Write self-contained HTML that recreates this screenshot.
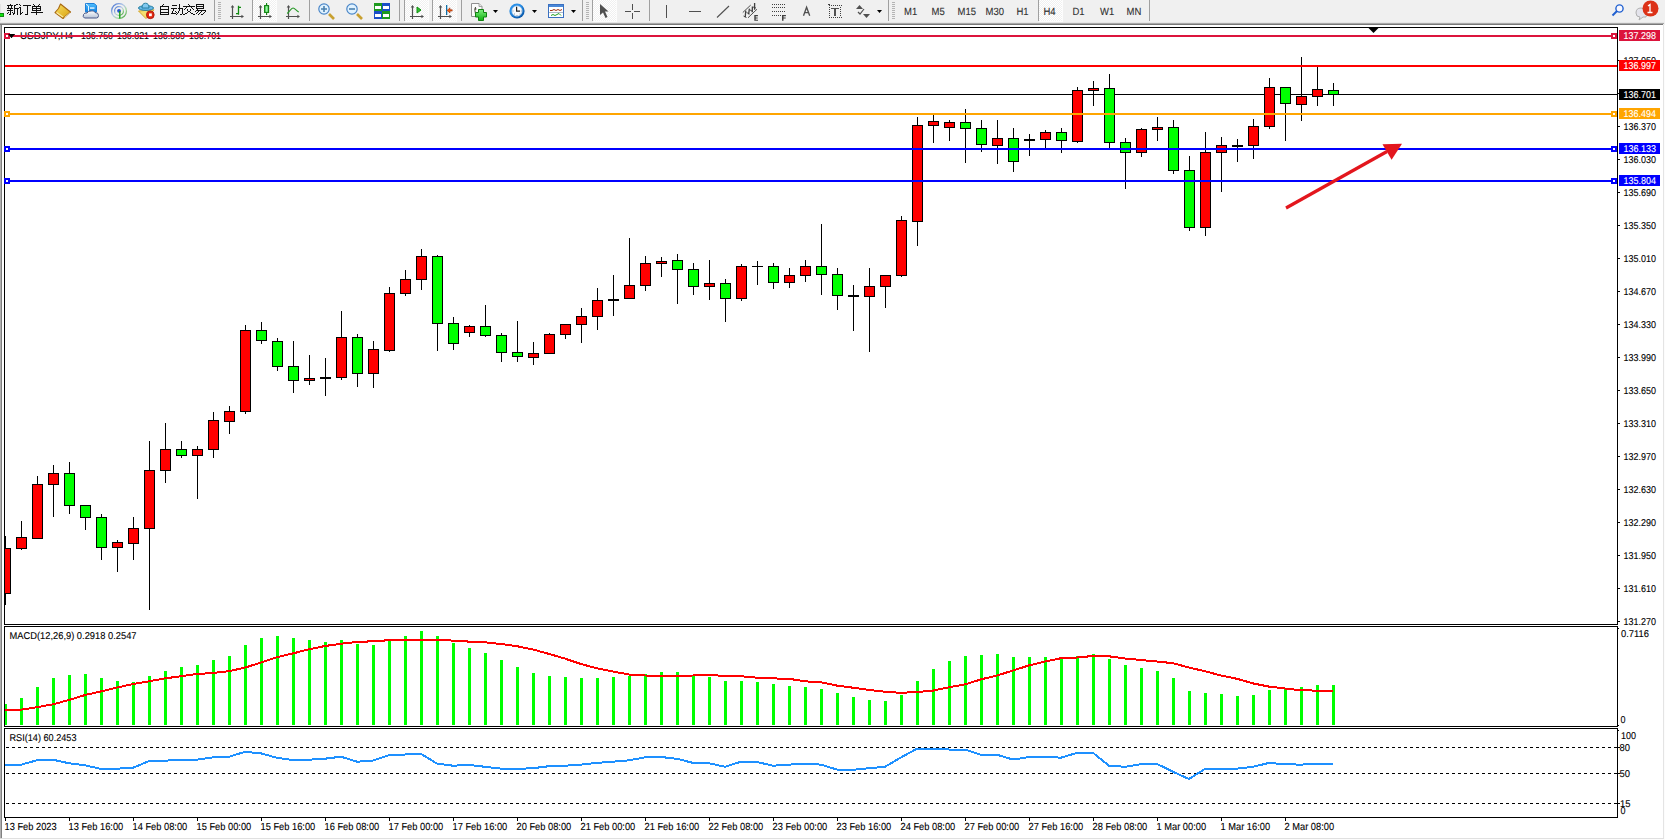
<!DOCTYPE html><html><head><meta charset="utf-8"><title>USDJPY H4</title><style>html,body{margin:0;padding:0;background:#f0f0f0;}body{width:1665px;height:840px;overflow:hidden;position:relative;}svg text{font-family:"Liberation Sans",sans-serif;text-rendering:geometricPrecision;}</style></head><body><svg width="1665" height="840" viewBox="0 0 1665 840" style="position:absolute;left:0;top:0" font-family='"Liberation Sans", sans-serif'>
<rect x="0" y="0" width="1665" height="840" fill="#f0f0f0"/>
<g shape-rendering="crispEdges">
<rect x="0" y="4" width="1" height="17" fill="#e2e2e2"/>
<rect x="0" y="13" width="4" height="4" fill="#108a10"/>
<rect x="0" y="14" width="3" height="2" fill="#10e010"/>
</g>
<path d="M10 4h1v1h-1zM16 4h2v1h-2zM7 5h6v1h-6zM14 5h2v1h-2zM8 6h1v1h-1zM11 6h1v1h-1zM14 6h1v1h-1zM8 7h1v1h-1zM11 7h1v1h-1zM14 7h1v1h-1zM7 8h6v1h-6zM14 8h5v1h-5zM10 9h1v1h-1zM14 9h1v1h-1zM17 9h1v1h-1zM7 10h6v1h-6zM14 10h1v1h-1zM17 10h1v1h-1zM10 11h1v1h-1zM14 11h1v1h-1zM17 11h1v1h-1zM8 12h1v1h-1zM10 12h1v1h-1zM12 12h1v1h-1zM14 12h1v1h-1zM17 12h1v1h-1zM7 13h1v1h-1zM10 13h1v1h-1zM13 13h2v1h-2zM17 13h1v1h-1zM9 14h2v1h-2zM13 14h1v1h-1zM17 14h1v1h-1zM19 4h1v1h-1zM20 5h1v1h-1zM23 5h8v1h-8zM27 6h1v1h-1zM19 7h2v1h-2zM27 7h1v1h-1zM20 8h1v1h-1zM27 8h1v1h-1zM20 9h1v1h-1zM27 9h1v1h-1zM20 10h1v1h-1zM27 10h1v1h-1zM20 11h1v1h-1zM27 11h1v1h-1zM20 12h1v1h-1zM22 12h1v1h-1zM27 12h1v1h-1zM20 13h2v1h-2zM27 13h1v1h-1zM20 14h1v1h-1zM25 14h3v1h-3zM33 4h1v1h-1zM39 4h1v1h-1zM34 5h1v1h-1zM38 5h1v1h-1zM32 6h9v1h-9zM32 7h1v1h-1zM36 7h1v1h-1zM40 7h1v1h-1zM32 8h9v1h-9zM32 9h1v1h-1zM36 9h1v1h-1zM40 9h1v1h-1zM32 10h9v1h-9zM36 11h1v1h-1zM31 12h12v1h-12zM36 13h1v1h-1zM36 14h1v1h-1z" fill="#111"/>
<path d="M163 4h1v1h-1zM162 5h1v1h-1zM160 6h9v1h-9zM160 7h1v1h-1zM168 7h1v1h-1zM160 8h1v1h-1zM168 8h1v1h-1zM160 9h9v1h-9zM160 10h1v1h-1zM168 10h1v1h-1zM160 11h1v1h-1zM168 11h1v1h-1zM160 12h9v1h-9zM160 13h1v1h-1zM168 13h1v1h-1zM160 14h9v1h-9z" fill="#111"/>
<path d="M179 4h1v1h-1zM172 5h5v1h-5zM179 5h1v1h-1zM179 6h1v1h-1zM179 7h1v1h-1zM171 8h6v1h-6zM178 8h5v1h-5zM173 9h1v1h-1zM179 9h1v1h-1zM182 9h1v1h-1zM173 10h1v1h-1zM179 10h1v1h-1zM182 10h1v1h-1zM172 11h1v1h-1zM175 11h1v1h-1zM178 11h1v1h-1zM182 11h1v1h-1zM172 12h1v1h-1zM176 12h1v1h-1zM178 12h1v1h-1zM182 12h1v1h-1zM171 13h5v1h-5zM177 13h1v1h-1zM182 13h1v1h-1zM176 14h1v1h-1zM180 14h2v1h-2z" fill="#111"/>
<path d="M188 4h1v1h-1zM189 5h1v1h-1zM183 6h12v1h-12zM186 7h1v1h-1zM191 7h1v1h-1zM185 8h1v1h-1zM192 8h1v1h-1zM184 9h1v1h-1zM187 9h1v1h-1zM190 9h1v1h-1zM193 9h1v1h-1zM187 10h1v1h-1zM190 10h1v1h-1zM188 11h2v1h-2zM187 12h1v1h-1zM190 12h1v1h-1zM185 13h2v1h-2zM191 13h2v1h-2zM183 14h2v1h-2zM193 14h2v1h-2z" fill="#111"/>
<path d="M196 4h8v1h-8zM196 5h1v1h-1zM203 5h1v1h-1zM196 6h8v1h-8zM196 7h1v1h-1zM203 7h1v1h-1zM196 8h8v1h-8zM197 9h1v1h-1zM196 10h10v1h-10zM195 11h1v1h-1zM198 11h1v1h-1zM201 11h1v1h-1zM205 11h1v1h-1zM197 12h1v1h-1zM200 12h1v1h-1zM204 12h1v1h-1zM196 13h1v1h-1zM199 13h1v1h-1zM203 13h1v1h-1zM198 14h1v1h-1zM201 14h2v1h-2z" fill="#111"/>
<defs><linearGradient id="gb" x1="0" y1="0" x2="1" y2="1"><stop offset="0" stop-color="#f8e060"/><stop offset="1" stop-color="#d8a010"/></linearGradient><linearGradient id="cl" x1="0" y1="0" x2="0" y2="1"><stop offset="0" stop-color="#ffffff"/><stop offset="1" stop-color="#b8c4d8"/></linearGradient><linearGradient id="bx" x1="0" y1="0" x2="0" y2="1"><stop offset="0" stop-color="#50c0ff"/><stop offset="1" stop-color="#1080e0"/></linearGradient><pattern id="chk" width="2" height="2" patternUnits="userSpaceOnUse"><rect width="2" height="2" fill="#f0f0f0"/><rect width="1" height="1" fill="#fff"/><rect x="1" y="1" width="1" height="1" fill="#fff"/></pattern></defs>
<path d="M60.5 4 L70.5 12 L63 18.5 L55 12.5 L58.5 8.5 Z" fill="url(#gb)" stroke="#a86810" stroke-width="1.1" stroke-linejoin="round"/>
<path d="M56.5 12.5 L63 17" stroke="#f8e8a0" stroke-width="1.3" fill="none"/>
<path d="M64.5 17.5 L70 12.8" stroke="#e8dcb0" stroke-width="1" fill="none"/>
<path d="M85.5 3.5 H94 L96.5 5.5 V12 H85.5 Z" fill="url(#bx)" stroke="#2080d8" stroke-width="1"/>
<path d="M86 4 L88.5 6 V12" stroke="#e8f6ff" stroke-width="1" fill="none"/>
<rect x="90" y="7.3" width="4.5" height="1.5" fill="#e0f4ff"/>
<path d="M84.5 18 Q82.5 17 83.5 14.5 Q84.5 12.5 87 13 Q88 10.5 91.5 11 Q93.5 10 95 12.5 Q98.5 12.5 98.5 15.5 Q98.5 18 96.5 18 Z" fill="url(#cl)" stroke="#4a5a88" stroke-width="1"/>
<defs><linearGradient id="sg" x1="0" y1="0" x2="1" y2="1"><stop offset="0" stop-color="#3a6ad0"/><stop offset="0.45" stop-color="#b8cce8"/><stop offset="0.7" stop-color="#a8d8a0"/><stop offset="1" stop-color="#209020"/></linearGradient></defs>
<g fill="none">
<circle cx="119" cy="11" r="7.4" stroke="url(#sg)" stroke-width="1.3"/>
<circle cx="119" cy="11" r="4.4" stroke="url(#sg)" stroke-width="1.3"/>
<circle cx="119" cy="10.8" r="1.9" fill="#2a5ad0"/>
<path d="M119.8 11 V18.6" stroke="#18a018" stroke-width="1.4"/>
</g>
<path d="M138.5 11 L154 9.8 L146 18.6 Z" fill="#f4e070" stroke="#d0a020" stroke-width="0.9" stroke-linejoin="round"/>
<ellipse cx="146" cy="8" rx="7.6" ry="2.4" fill="#68b8e8" stroke="#1e7898" stroke-width="0.9"/>
<path d="M142 8 Q142 3.2 145.5 3.2 Q149 3.2 149 8 Z" fill="#80c8f0" stroke="#1e7898" stroke-width="0.9"/>
<circle cx="150.3" cy="14.8" r="3.9" fill="#e02810" stroke="#a81008" stroke-width="0.8"/>
<rect x="149" y="13.4" width="2.8" height="2.8" fill="#fff"/>
<g shape-rendering="crispEdges">
<rect x="214" y="0" width="1" height="21" fill="#a0a0a0"/>
<path d="M218 2h3v1h-3zM218 4h3v1h-3zM218 6h3v1h-3zM218 8h3v1h-3zM218 10h3v1h-3zM218 12h3v1h-3zM218 14h3v1h-3zM218 16h3v1h-3zM218 18h3v1h-3z" fill="#b4b4b4"/>
<path d="M232 6v13M229 18h15M244 16v5" stroke="none"/>
</g>
<g fill="none" stroke="#505050" stroke-width="1.2"><path d="M232.5 6 V19 M230 16.5 H243"/></g><path d="M232.5 5 l-1.8 2.6h3.6z M244 16.5 l-2.6 -1.8v3.6z" fill="#505050"/>
<path d="M236 13.6 H238.6 M238.5 5.8 V14.8 M238.6 7.4 H241" fill="none" stroke="#108a10" stroke-width="1.3"/>
<rect x="252" y="0" width="1" height="21" fill="#a0a0a0"/>
<rect x="253" y="0" width="24" height="22" fill="#fcfcfc"/>
<rect x="253" y="0" width="23" height="21" fill="url(#chk)"/>
<g fill="none" stroke="#505050" stroke-width="1.2"><path d="M260.5 6 V19 M258 16.5 H271"/></g><path d="M260.5 5 l-1.8 2.6h3.6z M272 16.5 l-2.6 -1.8v3.6z" fill="#505050"/>
<defs><linearGradient id="cg" x1="0" y1="0" x2="1" y2="0"><stop offset="0" stop-color="#30d040"/><stop offset="0.5" stop-color="#a0f8a8"/><stop offset="1" stop-color="#30c040"/></linearGradient></defs>
<rect x="264.6" y="5.6" width="4" height="6.8" fill="url(#cg)" stroke="#108010" stroke-width="1.1"/>
<path d="M266.6 3v2.6M266.6 12.4v2.5" stroke="#108010" stroke-width="1.1"/>
<g fill="none" stroke="#505050" stroke-width="1.2"><path d="M288.5 6 V19 M286 16.5 H299"/></g><path d="M288.5 5 l-1.8 2.6h3.6z M300 16.5 l-2.6 -1.8v3.6z" fill="#505050"/>
<path d="M287.2 13.5 C289.5 11.5 291.2 8 293 8 C295 8 296.5 11.2 298.8 12" fill="none" stroke="#2a9a2a" stroke-width="1.1"/>
<rect x="309" y="0" width="1" height="21" fill="#a0a0a0"/>
<path d="M329 14 l5 5" stroke="#c8a030" stroke-width="2.6" fill="none"/>
<circle cx="324" cy="9" r="5.2" fill="#e0f2ff" stroke="#4a86c8" stroke-width="1.2"/>
<path d="M321 9h6M324 6v6" stroke="#4a80b0" stroke-width="1.6"/>
<path d="M357 14 l5 5" stroke="#c8a030" stroke-width="2.6" fill="none"/>
<circle cx="352" cy="9" r="5.2" fill="#e0f2ff" stroke="#4a86c8" stroke-width="1.2"/>
<path d="M349 9h6" stroke="#4a80b0" stroke-width="1.6"/>
<g shape-rendering="crispEdges">
<rect x="374" y="3" width="8" height="8" fill="#1e9a1e"/>
<rect x="375" y="6" width="6" height="3" fill="#ffffff"/>
<rect x="382" y="3" width="8" height="8" fill="#1a4ec8"/>
<rect x="383" y="6" width="6" height="3" fill="#ffffff"/>
<rect x="374" y="11" width="8" height="8" fill="#1a4ec8"/>
<rect x="375" y="14" width="6" height="3" fill="#ffffff"/>
<rect x="382" y="11" width="8" height="8" fill="#1e9a1e"/>
<rect x="383" y="14" width="6" height="3" fill="#ffffff"/>
</g>
<g shape-rendering="crispEdges">
<rect x="399" y="0" width="1" height="21" fill="#a0a0a0"/>
<rect x="404" y="0" width="1" height="21" fill="#a0a0a0"/>
<rect x="405" y="0" width="24" height="22" fill="#fcfcfc"/>
<rect x="405" y="0" width="23" height="21" fill="url(#chk)"/>
</g>
<g fill="none" stroke="#505050" stroke-width="1.2"><path d="M412.5 6 V19 M410 16.5 H423"/></g><path d="M412.5 5 l-1.8 2.6h3.6z M424 16.5 l-2.6 -1.8v3.6z" fill="#505050"/>
<path d="M417 7 L421 10 L417 13 Z" fill="#30c030" stroke="#109010" stroke-width="1"/>
<g shape-rendering="crispEdges">
<rect x="432" y="0" width="1" height="21" fill="#a0a0a0"/>
<rect x="433" y="0" width="24" height="22" fill="#fcfcfc"/>
<rect x="433" y="0" width="23" height="21" fill="url(#chk)"/>
</g>
<g fill="none" stroke="#505050" stroke-width="1.2"><path d="M440.5 6 V19 M438 16.5 H451"/></g><path d="M440.5 5 l-1.8 2.6h3.6z M452 16.5 l-2.6 -1.8v3.6z" fill="#505050"/>
<rect x="446" y="5" width="1.3" height="10" fill="#1070a8"/>
<path d="M447 10.4 l3 -2.6v1.9h2.2v1.4h-2.2v1.9z" fill="#f06010" stroke="#902000" stroke-width="0.5"/>
<g shape-rendering="crispEdges">
<rect x="461" y="0" width="1" height="21" fill="#a0a0a0"/>
</g>
<defs><linearGradient id="gp" x1="0" y1="0" x2="0" y2="1"><stop offset="0" stop-color="#80f080"/><stop offset="1" stop-color="#10b010"/></linearGradient><radialGradient id="ck" cx="0.4" cy="0.35" r="0.7"><stop offset="0.55" stop-color="#2a90e8"/><stop offset="1" stop-color="#004898"/></radialGradient></defs>
<path d="M471.5 3.5h7.5l3 3v10h-10.5z" fill="#fbfbfb" stroke="#909090" stroke-width="1"/>
<path d="M479 3.5v3h3" fill="#e8e8e8" stroke="#909090" stroke-width="0.8"/>
<path d="M475.5 7 q-1.2 3 0 7 M474.5 9h2" stroke="#303020" fill="none" stroke-width="0.9"/>
<path d="M478.5 9.5h5v3h3v4.5h-3v3.5h-5v-3.5h-3v-4.5h3z" fill="url(#gp)" stroke="#108010" stroke-width="1"/>
<path d="M493 10h5l-2.5 3z" fill="#000"/>
<circle cx="517" cy="11" r="7.6" fill="url(#ck)"/>
<circle cx="517" cy="11" r="5.2" fill="#f8fafc" stroke="#a0c0e0" stroke-width="0.6"/>
<path d="M516.6 6.8v4.4h3.4" stroke="#202020" stroke-width="1.2" fill="none"/>
<g fill="#90a0b0"><rect x="516.5" y="15" width="1" height="1"/><rect x="512.5" y="10.5" width="1" height="1"/><rect x="520.8" y="10.5" width="1" height="1"/><rect x="514" y="13.5" width="1" height="1"/><rect x="519.5" y="13.5" width="1" height="1"/></g>
<path d="M532 10h5l-2.5 3z" fill="#000"/>
<rect x="548.5" y="4.5" width="15" height="13" fill="#fff" stroke="#3a70c0" stroke-width="1"/>
<rect x="549" y="5" width="14" height="2" fill="#4a88d8"/>
<path d="M550 10.5 l2 0 l2 -1 l2 1 l2 -1 l2 1 l2 -1" stroke="#a03010" stroke-width="1" fill="none"/>
<path d="M549 12.5h14" stroke="#9ab" stroke-width="0.8"/>
<path d="M551 15.5 l2 -1 l2 1 l2 -1 l2 -1 l2 2" stroke="#20a020" stroke-width="1" fill="none"/>
<path d="M571 10h5l-2.5 3z" fill="#000"/>
<g shape-rendering="crispEdges">
<rect x="582" y="0" width="1" height="21" fill="#a0a0a0"/>
<path d="M586 2h3v1h-3zM586 4h3v1h-3zM586 6h3v1h-3zM586 8h3v1h-3zM586 10h3v1h-3zM586 12h3v1h-3zM586 14h3v1h-3zM586 16h3v1h-3zM586 18h3v1h-3z" fill="#b4b4b4"/>
<rect x="592" y="0" width="1" height="21" fill="#a0a0a0"/>
<rect x="593" y="0" width="24" height="22" fill="#fcfcfc"/>
<rect x="593" y="0" width="23" height="21" fill="url(#chk)"/>
</g>
<path d="M600 4 L600 15 L603 12.5 L605.5 18 L607.5 17 L605 11.5 L608.5 11.5 Z" fill="#505050"/>
<g shape-rendering="crispEdges">
<rect x="632" y="4" width="1" height="6" fill="#505050"/>
<rect x="632" y="13" width="1" height="6" fill="#505050"/>
<rect x="625" y="11" width="6" height="1" fill="#505050"/>
<rect x="634" y="11" width="6" height="1" fill="#505050"/>
<rect x="649" y="0" width="1" height="21" fill="#a0a0a0"/>
<rect x="666" y="5" width="1" height="13" fill="#505050"/>
<rect x="689" y="11" width="12" height="1" fill="#505050"/>
</g>
<path d="M717 17.5 L729 6" stroke="#505050" stroke-width="1.1"/>
<path d="M742.8 12.5 L750.7 5.1 M748 17.8 L757 9.2" stroke="#505050" stroke-width="1" fill="none"/>
<path d="M745.2 17.2 L745.8 10.6 M748.6 14.4 L749.4 8.6 M752.2 12.2 L752.4 6.6 M754.6 9.8 L754.6 3" stroke="#404040" stroke-width="1.3" fill="none"/>
<path d="M743.5 16 l3 1.5 M746.5 12.5 l3 1.5 M750 10 l3 1.5 M753 7 l3 1" stroke="#404040" stroke-width="0.9" fill="none"/>
<path d="M754.3 15 h3.6 v1.2 h-2.2 v1.2 h2 v1.1 h-2 v1.2 h2.3 v1.1 h-3.7 z" fill="#404040"/>
<g shape-rendering="crispEdges">
<rect x="772" y="4" width="1" height="1" fill="#404040"/>
<rect x="774" y="4" width="1" height="1" fill="#404040"/>
<rect x="776" y="4" width="1" height="1" fill="#404040"/>
<rect x="778" y="4" width="1" height="1" fill="#404040"/>
<rect x="780" y="4" width="1" height="1" fill="#404040"/>
<rect x="782" y="4" width="1" height="1" fill="#404040"/>
<rect x="784" y="4" width="1" height="1" fill="#404040"/>
<rect x="772" y="7" width="1" height="1" fill="#404040"/>
<rect x="774" y="7" width="1" height="1" fill="#404040"/>
<rect x="776" y="7" width="1" height="1" fill="#404040"/>
<rect x="778" y="7" width="1" height="1" fill="#404040"/>
<rect x="780" y="7" width="1" height="1" fill="#404040"/>
<rect x="782" y="7" width="1" height="1" fill="#404040"/>
<rect x="784" y="7" width="1" height="1" fill="#404040"/>
<rect x="772" y="11" width="1" height="1" fill="#404040"/>
<rect x="774" y="11" width="1" height="1" fill="#404040"/>
<rect x="776" y="11" width="1" height="1" fill="#404040"/>
<rect x="778" y="11" width="1" height="1" fill="#404040"/>
<rect x="780" y="11" width="1" height="1" fill="#404040"/>
<rect x="782" y="11" width="1" height="1" fill="#404040"/>
<rect x="784" y="11" width="1" height="1" fill="#404040"/>
<rect x="772" y="15" width="1" height="1" fill="#404040"/>
<rect x="774" y="15" width="1" height="1" fill="#404040"/>
<rect x="776" y="15" width="1" height="1" fill="#404040"/>
<rect x="778" y="15" width="1" height="1" fill="#404040"/>
<rect x="780" y="15" width="1" height="1" fill="#404040"/>
</g>
<path d="M782 15 h3.9 v1.2 h-2.4 v1.2 h2.2 v1.1 h-2.2 v2.2 h-1.5 z" fill="#404040"/>
<path d="M803.5 15.8 L806.6 7.2 L809.7 15.8 M804.6 12.6 H808.6" stroke="#505050" stroke-width="1.35" fill="none"/>
<g shape-rendering="crispEdges">
<rect x="829" y="5" width="1" height="1" fill="#404040"/>
<rect x="829" y="17" width="1" height="1" fill="#404040"/>
<rect x="831" y="5" width="1" height="1" fill="#404040"/>
<rect x="831" y="17" width="1" height="1" fill="#404040"/>
<rect x="833" y="5" width="1" height="1" fill="#404040"/>
<rect x="833" y="17" width="1" height="1" fill="#404040"/>
<rect x="835" y="5" width="1" height="1" fill="#404040"/>
<rect x="835" y="17" width="1" height="1" fill="#404040"/>
<rect x="837" y="5" width="1" height="1" fill="#404040"/>
<rect x="837" y="17" width="1" height="1" fill="#404040"/>
<rect x="839" y="5" width="1" height="1" fill="#404040"/>
<rect x="839" y="17" width="1" height="1" fill="#404040"/>
<rect x="841" y="5" width="1" height="1" fill="#404040"/>
<rect x="841" y="17" width="1" height="1" fill="#404040"/>
<rect x="829" y="7" width="1" height="1" fill="#404040"/>
<rect x="840" y="7" width="1" height="1" fill="#404040"/>
<rect x="829" y="9" width="1" height="1" fill="#404040"/>
<rect x="840" y="9" width="1" height="1" fill="#404040"/>
<rect x="829" y="11" width="1" height="1" fill="#404040"/>
<rect x="840" y="11" width="1" height="1" fill="#404040"/>
<rect x="829" y="13" width="1" height="1" fill="#404040"/>
<rect x="840" y="13" width="1" height="1" fill="#404040"/>
<rect x="829" y="15" width="1" height="1" fill="#404040"/>
<rect x="840" y="15" width="1" height="1" fill="#404040"/>
<rect x="828" y="4" width="2" height="1" fill="#404040"/>
<rect x="831" y="8" width="8" height="1" fill="#505050"/>
<rect x="834" y="9" width="2" height="7" fill="#505050"/>
</g>
<path d="M856 9 l3.5 -4 l3.5 4z M863 14 l3.5 4 l3.5 -4z" fill="#505050"/>
<path d="M858 12 l2 2 l4 -5" stroke="#505050" stroke-width="1.2" fill="none"/>
<path d="M877 10h5l-2.5 3z" fill="#000"/>
<g shape-rendering="crispEdges">
<rect x="888" y="0" width="1" height="21" fill="#a0a0a0"/>
<path d="M892 2h3v1h-3zM892 4h3v1h-3zM892 6h3v1h-3zM892 8h3v1h-3zM892 10h3v1h-3zM892 12h3v1h-3zM892 14h3v1h-3zM892 16h3v1h-3zM892 18h3v1h-3z" fill="#b4b4b4"/>
</g>
<g shape-rendering="crispEdges">
<rect x="1038" y="0" width="1" height="21" fill="#a0a0a0"/>
<rect x="1039" y="0" width="24" height="22" fill="#fcfcfc"/>
<rect x="1039" y="0" width="23" height="21" fill="url(#chk)"/>
<rect x="1149" y="0" width="1" height="21" fill="#a0a0a0"/>
</g>
<text transform="translate(904 15) scale(1 1.1)" font-size="9.5" fill="#303030" stroke="#303030" stroke-width="0.1">M1</text>
<text transform="translate(931.5 15) scale(1 1.1)" font-size="9.5" fill="#303030" stroke="#303030" stroke-width="0.1">M5</text>
<text transform="translate(957.5 15) scale(1 1.1)" font-size="9.5" fill="#303030" stroke="#303030" stroke-width="0.1">M15</text>
<text transform="translate(985.5 15) scale(1 1.1)" font-size="9.5" fill="#303030" stroke="#303030" stroke-width="0.1">M30</text>
<text transform="translate(1016.5 15) scale(1 1.1)" font-size="9.5" fill="#303030" stroke="#303030" stroke-width="0.1">H1</text>
<text transform="translate(1043.5 15) scale(1 1.1)" font-size="9.5" fill="#303030" stroke="#303030" stroke-width="0.1">H4</text>
<text transform="translate(1072.5 15) scale(1 1.1)" font-size="9.5" fill="#303030" stroke="#303030" stroke-width="0.1">D1</text>
<text transform="translate(1100 15) scale(1 1.1)" font-size="9.5" fill="#303030" stroke="#303030" stroke-width="0.1">W1</text>
<text transform="translate(1126.5 15) scale(1 1.1)" font-size="9.5" fill="#303030" stroke="#303030" stroke-width="0.1">MN</text>
<circle cx="1619.5" cy="8.5" r="3.6" fill="#f8f8ff" stroke="#2060d0" stroke-width="1.4"/>
<path d="M1617 11 L1612.5 15.5" stroke="#2060d0" stroke-width="2"/>
<path d="M1641 8 Q1636 8 1636 13 Q1636 17 1640 17 L1639 20 L1643 17 L1646 17 Q1648 13 1646 9 Z" fill="#e4e4ec" stroke="#b0b0b0" stroke-width="1"/>
<circle cx="1650.5" cy="8.5" r="8" fill="#dc3218"/>
<path d="M1647.5 12.5h5M1650 12.5v-8l-2 1.5" stroke="#fff" stroke-width="1.3" fill="none"/>
<g shape-rendering="crispEdges">
<rect x="0" y="22" width="1664" height="1" fill="#e6e6e6"/>
<rect x="0" y="23" width="1664" height="1" fill="#a8a8a8"/>
<rect x="0" y="24" width="1663" height="1" fill="#787878"/>
<rect x="2" y="25" width="1661" height="813" fill="#ffffff"/>
<rect x="0" y="25" width="1" height="813" fill="#b0b0b0"/>
<rect x="1" y="25" width="1" height="813" fill="#808080"/>
<rect x="1663" y="25" width="1" height="814" fill="#e4e4e4"/>
<rect x="2" y="838" width="1662" height="1" fill="#e0e0e0"/>
<rect x="0" y="839" width="1665" height="1" fill="#fcfcfc"/>
<rect x="1664" y="25" width="1" height="815" fill="#fcfcfc"/>
<rect x="0" y="838" width="2" height="1" fill="#d8d8d8"/>
<rect x="4" y="27" width="1614" height="1" fill="#000"/>
<rect x="4" y="624" width="1614" height="1" fill="#000"/>
<rect x="4" y="27" width="1" height="598" fill="#000"/>
<rect x="1617" y="27" width="1" height="598" fill="#000"/>
<rect x="4" y="626" width="1614" height="1" fill="#000"/>
<rect x="4" y="726" width="1614" height="1" fill="#000"/>
<rect x="4" y="626" width="1" height="101" fill="#000"/>
<rect x="1617" y="626" width="1" height="101" fill="#000"/>
<rect x="4" y="728" width="1614" height="1" fill="#000"/>
<rect x="4" y="817" width="1614" height="1" fill="#000"/>
<rect x="4" y="728" width="1" height="90" fill="#000"/>
<rect x="1617" y="728" width="1" height="90" fill="#000"/>
</g>
<defs><clipPath id="cm"><rect x="5" y="28" width="1612" height="596"/></clipPath><clipPath id="cmacd"><rect x="5" y="627" width="1612" height="99"/></clipPath><clipPath id="crsi"><rect x="5" y="729" width="1612" height="88"/></clipPath></defs>
<g clip-path="url(#cm)" shape-rendering="crispEdges">
<rect x="5" y="94" width="1612" height="1" fill="#000000"/>
<rect x="5" y="536" width="1" height="69" fill="#000"/>
<rect x="0" y="548" width="11" height="46" fill="#000"/>
<rect x="1" y="549" width="9" height="44" fill="#ff0000"/>
<rect x="21" y="521" width="1" height="29" fill="#000"/>
<rect x="16" y="537" width="11" height="12" fill="#000"/>
<rect x="17" y="538" width="9" height="10" fill="#ff0000"/>
<rect x="37" y="476" width="1" height="63" fill="#000"/>
<rect x="32" y="484" width="11" height="55" fill="#000"/>
<rect x="33" y="485" width="9" height="53" fill="#ff0000"/>
<rect x="53" y="465" width="1" height="52" fill="#000"/>
<rect x="48" y="473" width="11" height="12" fill="#000"/>
<rect x="49" y="474" width="9" height="10" fill="#ff0000"/>
<rect x="69" y="462" width="1" height="52" fill="#000"/>
<rect x="64" y="473" width="11" height="33" fill="#000"/>
<rect x="65" y="474" width="9" height="31" fill="#00ff00"/>
<rect x="85" y="505" width="1" height="25" fill="#000"/>
<rect x="80" y="505" width="11" height="13" fill="#000"/>
<rect x="81" y="506" width="9" height="11" fill="#00ff00"/>
<rect x="101" y="514" width="1" height="46" fill="#000"/>
<rect x="96" y="517" width="11" height="31" fill="#000"/>
<rect x="97" y="518" width="9" height="29" fill="#00ff00"/>
<rect x="117" y="540" width="1" height="32" fill="#000"/>
<rect x="112" y="542" width="11" height="6" fill="#000"/>
<rect x="113" y="543" width="9" height="4" fill="#ff0000"/>
<rect x="133" y="517" width="1" height="43" fill="#000"/>
<rect x="128" y="528" width="11" height="16" fill="#000"/>
<rect x="129" y="529" width="9" height="14" fill="#ff0000"/>
<rect x="149" y="441" width="1" height="169" fill="#000"/>
<rect x="144" y="470" width="11" height="59" fill="#000"/>
<rect x="145" y="471" width="9" height="57" fill="#ff0000"/>
<rect x="165" y="423" width="1" height="60" fill="#000"/>
<rect x="160" y="449" width="11" height="22" fill="#000"/>
<rect x="161" y="450" width="9" height="20" fill="#ff0000"/>
<rect x="181" y="441" width="1" height="17" fill="#000"/>
<rect x="176" y="449" width="11" height="7" fill="#000"/>
<rect x="177" y="450" width="9" height="5" fill="#00ff00"/>
<rect x="197" y="446" width="1" height="53" fill="#000"/>
<rect x="192" y="449" width="11" height="7" fill="#000"/>
<rect x="193" y="450" width="9" height="5" fill="#ff0000"/>
<rect x="213" y="412" width="1" height="46" fill="#000"/>
<rect x="208" y="420" width="11" height="30" fill="#000"/>
<rect x="209" y="421" width="9" height="28" fill="#ff0000"/>
<rect x="229" y="406" width="1" height="28" fill="#000"/>
<rect x="224" y="411" width="11" height="11" fill="#000"/>
<rect x="225" y="412" width="9" height="9" fill="#ff0000"/>
<rect x="245" y="325" width="1" height="89" fill="#000"/>
<rect x="240" y="330" width="11" height="82" fill="#000"/>
<rect x="241" y="331" width="9" height="80" fill="#ff0000"/>
<rect x="261" y="322" width="1" height="22" fill="#000"/>
<rect x="256" y="330" width="11" height="11" fill="#000"/>
<rect x="257" y="331" width="9" height="9" fill="#00ff00"/>
<rect x="277" y="338" width="1" height="33" fill="#000"/>
<rect x="272" y="341" width="11" height="26" fill="#000"/>
<rect x="273" y="342" width="9" height="24" fill="#00ff00"/>
<rect x="293" y="341" width="1" height="52" fill="#000"/>
<rect x="288" y="366" width="11" height="15" fill="#000"/>
<rect x="289" y="367" width="9" height="13" fill="#00ff00"/>
<rect x="309" y="355" width="1" height="30" fill="#000"/>
<rect x="304" y="378" width="11" height="3" fill="#000"/>
<rect x="305" y="379" width="9" height="1" fill="#ff0000"/>
<rect x="325" y="358" width="1" height="38" fill="#000"/>
<rect x="320" y="377" width="11" height="2" fill="#000"/>
<rect x="341" y="311" width="1" height="69" fill="#000"/>
<rect x="336" y="337" width="11" height="41" fill="#000"/>
<rect x="337" y="338" width="9" height="39" fill="#ff0000"/>
<rect x="357" y="334" width="1" height="53" fill="#000"/>
<rect x="352" y="337" width="11" height="37" fill="#000"/>
<rect x="353" y="338" width="9" height="35" fill="#00ff00"/>
<rect x="373" y="341" width="1" height="47" fill="#000"/>
<rect x="368" y="349" width="11" height="25" fill="#000"/>
<rect x="369" y="350" width="9" height="23" fill="#ff0000"/>
<rect x="389" y="287" width="1" height="65" fill="#000"/>
<rect x="384" y="293" width="11" height="58" fill="#000"/>
<rect x="385" y="294" width="9" height="56" fill="#ff0000"/>
<rect x="405" y="270" width="1" height="26" fill="#000"/>
<rect x="400" y="279" width="11" height="15" fill="#000"/>
<rect x="401" y="280" width="9" height="13" fill="#ff0000"/>
<rect x="421" y="249" width="1" height="41" fill="#000"/>
<rect x="416" y="256" width="11" height="24" fill="#000"/>
<rect x="417" y="257" width="9" height="22" fill="#ff0000"/>
<rect x="437" y="255" width="1" height="96" fill="#000"/>
<rect x="432" y="256" width="11" height="68" fill="#000"/>
<rect x="433" y="257" width="9" height="66" fill="#00ff00"/>
<rect x="453" y="317" width="1" height="33" fill="#000"/>
<rect x="448" y="323" width="11" height="21" fill="#000"/>
<rect x="449" y="324" width="9" height="19" fill="#00ff00"/>
<rect x="469" y="325" width="1" height="12" fill="#000"/>
<rect x="464" y="326" width="11" height="7" fill="#000"/>
<rect x="465" y="327" width="9" height="5" fill="#ff0000"/>
<rect x="485" y="305" width="1" height="32" fill="#000"/>
<rect x="480" y="326" width="11" height="10" fill="#000"/>
<rect x="481" y="327" width="9" height="8" fill="#00ff00"/>
<rect x="501" y="333" width="1" height="29" fill="#000"/>
<rect x="496" y="335" width="11" height="18" fill="#000"/>
<rect x="497" y="336" width="9" height="16" fill="#00ff00"/>
<rect x="517" y="321" width="1" height="41" fill="#000"/>
<rect x="512" y="352" width="11" height="5" fill="#000"/>
<rect x="513" y="353" width="9" height="3" fill="#00ff00"/>
<rect x="533" y="342" width="1" height="23" fill="#000"/>
<rect x="528" y="353" width="11" height="5" fill="#000"/>
<rect x="529" y="354" width="9" height="3" fill="#ff0000"/>
<rect x="549" y="333" width="1" height="21" fill="#000"/>
<rect x="544" y="334" width="11" height="20" fill="#000"/>
<rect x="545" y="335" width="9" height="18" fill="#ff0000"/>
<rect x="565" y="324" width="1" height="15" fill="#000"/>
<rect x="560" y="324" width="11" height="11" fill="#000"/>
<rect x="561" y="325" width="9" height="9" fill="#ff0000"/>
<rect x="581" y="308" width="1" height="35" fill="#000"/>
<rect x="576" y="316" width="11" height="9" fill="#000"/>
<rect x="577" y="317" width="9" height="7" fill="#ff0000"/>
<rect x="597" y="288" width="1" height="42" fill="#000"/>
<rect x="592" y="300" width="11" height="17" fill="#000"/>
<rect x="593" y="301" width="9" height="15" fill="#ff0000"/>
<rect x="613" y="275" width="1" height="41" fill="#000"/>
<rect x="608" y="299" width="11" height="2" fill="#000"/>
<rect x="629" y="238" width="1" height="61" fill="#000"/>
<rect x="624" y="285" width="11" height="14" fill="#000"/>
<rect x="625" y="286" width="9" height="12" fill="#ff0000"/>
<rect x="645" y="256" width="1" height="35" fill="#000"/>
<rect x="640" y="263" width="11" height="23" fill="#000"/>
<rect x="641" y="264" width="9" height="21" fill="#ff0000"/>
<rect x="661" y="257" width="1" height="20" fill="#000"/>
<rect x="656" y="261" width="11" height="3" fill="#000"/>
<rect x="657" y="262" width="9" height="1" fill="#ff0000"/>
<rect x="677" y="254" width="1" height="50" fill="#000"/>
<rect x="672" y="260" width="11" height="10" fill="#000"/>
<rect x="673" y="261" width="9" height="8" fill="#00ff00"/>
<rect x="693" y="263" width="1" height="32" fill="#000"/>
<rect x="688" y="269" width="11" height="18" fill="#000"/>
<rect x="689" y="270" width="9" height="16" fill="#00ff00"/>
<rect x="709" y="260" width="1" height="40" fill="#000"/>
<rect x="704" y="283" width="11" height="4" fill="#000"/>
<rect x="705" y="284" width="9" height="2" fill="#ff0000"/>
<rect x="725" y="279" width="1" height="43" fill="#000"/>
<rect x="720" y="283" width="11" height="16" fill="#000"/>
<rect x="721" y="284" width="9" height="14" fill="#00ff00"/>
<rect x="741" y="264" width="1" height="37" fill="#000"/>
<rect x="736" y="266" width="11" height="33" fill="#000"/>
<rect x="737" y="267" width="9" height="31" fill="#ff0000"/>
<rect x="757" y="261" width="1" height="24" fill="#000"/>
<rect x="752" y="266" width="11" height="1" fill="#000"/>
<rect x="773" y="263" width="1" height="26" fill="#000"/>
<rect x="768" y="266" width="11" height="17" fill="#000"/>
<rect x="769" y="267" width="9" height="15" fill="#00ff00"/>
<rect x="789" y="268" width="1" height="20" fill="#000"/>
<rect x="784" y="275" width="11" height="8" fill="#000"/>
<rect x="785" y="276" width="9" height="6" fill="#ff0000"/>
<rect x="805" y="260" width="1" height="22" fill="#000"/>
<rect x="800" y="266" width="11" height="10" fill="#000"/>
<rect x="801" y="267" width="9" height="8" fill="#ff0000"/>
<rect x="821" y="224" width="1" height="71" fill="#000"/>
<rect x="816" y="266" width="11" height="9" fill="#000"/>
<rect x="817" y="267" width="9" height="7" fill="#00ff00"/>
<rect x="837" y="268" width="1" height="42" fill="#000"/>
<rect x="832" y="274" width="11" height="22" fill="#000"/>
<rect x="833" y="275" width="9" height="20" fill="#00ff00"/>
<rect x="853" y="285" width="1" height="46" fill="#000"/>
<rect x="848" y="295" width="11" height="2" fill="#000"/>
<rect x="869" y="268" width="1" height="84" fill="#000"/>
<rect x="864" y="286" width="11" height="11" fill="#000"/>
<rect x="865" y="287" width="9" height="9" fill="#ff0000"/>
<rect x="885" y="275" width="1" height="33" fill="#000"/>
<rect x="880" y="275" width="11" height="12" fill="#000"/>
<rect x="881" y="276" width="9" height="10" fill="#ff0000"/>
<rect x="901" y="216" width="1" height="61" fill="#000"/>
<rect x="896" y="220" width="11" height="56" fill="#000"/>
<rect x="897" y="221" width="9" height="54" fill="#ff0000"/>
<rect x="917" y="117" width="1" height="129" fill="#000"/>
<rect x="912" y="125" width="11" height="97" fill="#000"/>
<rect x="913" y="126" width="9" height="95" fill="#ff0000"/>
<rect x="933" y="115" width="1" height="28" fill="#000"/>
<rect x="928" y="121" width="11" height="5" fill="#000"/>
<rect x="929" y="122" width="9" height="3" fill="#ff0000"/>
<rect x="949" y="120" width="1" height="21" fill="#000"/>
<rect x="944" y="122" width="11" height="6" fill="#000"/>
<rect x="945" y="123" width="9" height="4" fill="#ff0000"/>
<rect x="965" y="109" width="1" height="54" fill="#000"/>
<rect x="960" y="122" width="11" height="7" fill="#000"/>
<rect x="961" y="123" width="9" height="5" fill="#00ff00"/>
<rect x="981" y="120" width="1" height="32" fill="#000"/>
<rect x="976" y="128" width="11" height="17" fill="#000"/>
<rect x="977" y="129" width="9" height="15" fill="#00ff00"/>
<rect x="997" y="120" width="1" height="44" fill="#000"/>
<rect x="992" y="138" width="11" height="8" fill="#000"/>
<rect x="993" y="139" width="9" height="6" fill="#ff0000"/>
<rect x="1013" y="128" width="1" height="44" fill="#000"/>
<rect x="1008" y="138" width="11" height="24" fill="#000"/>
<rect x="1009" y="139" width="9" height="22" fill="#00ff00"/>
<rect x="1029" y="134" width="1" height="22" fill="#000"/>
<rect x="1024" y="139" width="11" height="2" fill="#000"/>
<rect x="1045" y="130" width="1" height="18" fill="#000"/>
<rect x="1040" y="132" width="11" height="8" fill="#000"/>
<rect x="1041" y="133" width="9" height="6" fill="#ff0000"/>
<rect x="1061" y="128" width="1" height="25" fill="#000"/>
<rect x="1056" y="132" width="11" height="9" fill="#000"/>
<rect x="1057" y="133" width="9" height="7" fill="#00ff00"/>
<rect x="1077" y="87" width="1" height="56" fill="#000"/>
<rect x="1072" y="90" width="11" height="52" fill="#000"/>
<rect x="1073" y="91" width="9" height="50" fill="#ff0000"/>
<rect x="1093" y="81" width="1" height="25" fill="#000"/>
<rect x="1088" y="88" width="11" height="3" fill="#000"/>
<rect x="1089" y="89" width="9" height="1" fill="#ff0000"/>
<rect x="1109" y="74" width="1" height="74" fill="#000"/>
<rect x="1104" y="88" width="11" height="55" fill="#000"/>
<rect x="1105" y="89" width="9" height="53" fill="#00ff00"/>
<rect x="1125" y="138" width="1" height="51" fill="#000"/>
<rect x="1120" y="142" width="11" height="11" fill="#000"/>
<rect x="1121" y="143" width="9" height="9" fill="#00ff00"/>
<rect x="1141" y="128" width="1" height="29" fill="#000"/>
<rect x="1136" y="129" width="11" height="24" fill="#000"/>
<rect x="1137" y="130" width="9" height="22" fill="#ff0000"/>
<rect x="1157" y="117" width="1" height="24" fill="#000"/>
<rect x="1152" y="127" width="11" height="3" fill="#000"/>
<rect x="1153" y="128" width="9" height="1" fill="#ff0000"/>
<rect x="1173" y="120" width="1" height="54" fill="#000"/>
<rect x="1168" y="127" width="11" height="44" fill="#000"/>
<rect x="1169" y="128" width="9" height="42" fill="#00ff00"/>
<rect x="1189" y="156" width="1" height="75" fill="#000"/>
<rect x="1184" y="170" width="11" height="58" fill="#000"/>
<rect x="1185" y="171" width="9" height="56" fill="#00ff00"/>
<rect x="1205" y="132" width="1" height="104" fill="#000"/>
<rect x="1200" y="152" width="11" height="76" fill="#000"/>
<rect x="1201" y="153" width="9" height="74" fill="#ff0000"/>
<rect x="1221" y="137" width="1" height="55" fill="#000"/>
<rect x="1216" y="145" width="11" height="8" fill="#000"/>
<rect x="1217" y="146" width="9" height="6" fill="#ff0000"/>
<rect x="1237" y="139" width="1" height="23" fill="#000"/>
<rect x="1232" y="145" width="11" height="2" fill="#000"/>
<rect x="1253" y="119" width="1" height="40" fill="#000"/>
<rect x="1248" y="126" width="11" height="20" fill="#000"/>
<rect x="1249" y="127" width="9" height="18" fill="#ff0000"/>
<rect x="1269" y="78" width="1" height="51" fill="#000"/>
<rect x="1264" y="87" width="11" height="40" fill="#000"/>
<rect x="1265" y="88" width="9" height="38" fill="#ff0000"/>
<rect x="1285" y="87" width="1" height="54" fill="#000"/>
<rect x="1280" y="87" width="11" height="17" fill="#000"/>
<rect x="1281" y="88" width="9" height="15" fill="#00ff00"/>
<rect x="1301" y="57" width="1" height="64" fill="#000"/>
<rect x="1296" y="96" width="11" height="9" fill="#000"/>
<rect x="1297" y="97" width="9" height="7" fill="#ff0000"/>
<rect x="1317" y="66" width="1" height="40" fill="#000"/>
<rect x="1312" y="89" width="11" height="8" fill="#000"/>
<rect x="1313" y="90" width="9" height="6" fill="#ff0000"/>
<rect x="1333" y="83" width="1" height="23" fill="#000"/>
<rect x="1328" y="90" width="11" height="5" fill="#000"/>
<rect x="1329" y="91" width="9" height="3" fill="#00ff00"/>
<rect x="5" y="35" width="1612" height="2" fill="#dc143c"/>
<rect x="5" y="65" width="1612" height="2" fill="#ff0000"/>
<rect x="5" y="113" width="1612" height="2" fill="#ffa500"/>
<rect x="5" y="148" width="1612" height="2" fill="#0000ff"/>
<rect x="5" y="180" width="1612" height="2" fill="#0000ff"/>
</g>
<g shape-rendering="crispEdges">
<rect x="4" y="33" width="6" height="6" fill="#dc143c"/>
<rect x="6" y="35" width="2" height="2" fill="#fff"/>
</g>
<g shape-rendering="crispEdges">
<rect x="1611" y="33" width="6" height="6" fill="#dc143c"/>
<rect x="1613" y="35" width="2" height="2" fill="#fff"/>
</g>
<g shape-rendering="crispEdges">
<rect x="4" y="111" width="6" height="6" fill="#ffa500"/>
<rect x="6" y="113" width="2" height="2" fill="#fff"/>
</g>
<g shape-rendering="crispEdges">
<rect x="1611" y="111" width="6" height="6" fill="#ffa500"/>
<rect x="1613" y="113" width="2" height="2" fill="#fff"/>
</g>
<g shape-rendering="crispEdges">
<rect x="4" y="146" width="6" height="6" fill="#0000ff"/>
<rect x="6" y="148" width="2" height="2" fill="#fff"/>
</g>
<g shape-rendering="crispEdges">
<rect x="1611" y="146" width="6" height="6" fill="#0000ff"/>
<rect x="1613" y="148" width="2" height="2" fill="#fff"/>
</g>
<g shape-rendering="crispEdges">
<rect x="4" y="178" width="6" height="6" fill="#0000ff"/>
<rect x="6" y="180" width="2" height="2" fill="#fff"/>
</g>
<g shape-rendering="crispEdges">
<rect x="1611" y="178" width="6" height="6" fill="#0000ff"/>
<rect x="1613" y="180" width="2" height="2" fill="#fff"/>
</g>
<path d="M1368.5 28 L1378.5 28 L1373.5 33 Z" fill="#000"/>
<path d="M8 34 L15 34 L11.5 38 Z" fill="#000"/>
<path d="M1286 208 L1387 151.5" stroke="#e3161d" stroke-width="3.2" fill="none"/>
<path d="M1382.5 144.3 L1402 143.8 L1391.6 159.8 Z" fill="#e3161d"/>
<text transform="translate(20 39) scale(1 1.1)" font-size="9" fill="#000" stroke="#000" stroke-width="0.1" textLength="53" lengthAdjust="spacingAndGlyphs">USDJPY,H4</text>
<text transform="translate(81 39) scale(1 1.1)" font-size="9" fill="#000" stroke="#000" stroke-width="0.1" textLength="32" lengthAdjust="spacingAndGlyphs">136.750</text>
<text transform="translate(117 39) scale(1 1.1)" font-size="9" fill="#000" stroke="#000" stroke-width="0.1" textLength="32" lengthAdjust="spacingAndGlyphs">136.821</text>
<text transform="translate(153 39) scale(1 1.1)" font-size="9" fill="#000" stroke="#000" stroke-width="0.1" textLength="32" lengthAdjust="spacingAndGlyphs">136.589</text>
<text transform="translate(189 39) scale(1 1.1)" font-size="9" fill="#000" stroke="#000" stroke-width="0.1" textLength="32" lengthAdjust="spacingAndGlyphs">136.701</text>
<g shape-rendering="crispEdges">
<rect x="10" y="35" width="1601" height="2" fill="#dc143c"/>
<g shape-rendering="crispEdges">
<rect x="4" y="33" width="6" height="6" fill="#dc143c"/>
<rect x="6" y="35" width="2" height="2" fill="#fff"/>
</g>
</g>
<path d="M8 34 L15 34 L11.5 38 Z" fill="#000"/>
<g shape-rendering="crispEdges">
<rect x="1618" y="60" width="2" height="1" fill="#000"/>
<rect x="1618" y="93" width="2" height="1" fill="#000"/>
<rect x="1618" y="126" width="2" height="1" fill="#000"/>
<rect x="1618" y="159" width="2" height="1" fill="#000"/>
<rect x="1618" y="192" width="2" height="1" fill="#000"/>
<rect x="1618" y="225" width="2" height="1" fill="#000"/>
<rect x="1618" y="258" width="2" height="1" fill="#000"/>
<rect x="1618" y="291" width="2" height="1" fill="#000"/>
<rect x="1618" y="324" width="2" height="1" fill="#000"/>
<rect x="1618" y="357" width="2" height="1" fill="#000"/>
<rect x="1618" y="390" width="2" height="1" fill="#000"/>
<rect x="1618" y="423" width="2" height="1" fill="#000"/>
<rect x="1618" y="456" width="2" height="1" fill="#000"/>
<rect x="1618" y="489" width="2" height="1" fill="#000"/>
<rect x="1618" y="522" width="2" height="1" fill="#000"/>
<rect x="1618" y="555" width="2" height="1" fill="#000"/>
<rect x="1618" y="588" width="2" height="1" fill="#000"/>
<rect x="1618" y="621" width="2" height="1" fill="#000"/>
</g>
<text transform="translate(1623.5 64) scale(1 1.1)" font-size="9" fill="#000" stroke="#000" stroke-width="0.1" textLength="32.5" lengthAdjust="spacingAndGlyphs">137.050</text>
<text transform="translate(1623.5 130) scale(1 1.1)" font-size="9" fill="#000" stroke="#000" stroke-width="0.1" textLength="32.5" lengthAdjust="spacingAndGlyphs">136.370</text>
<text transform="translate(1623.5 163) scale(1 1.1)" font-size="9" fill="#000" stroke="#000" stroke-width="0.1" textLength="32.5" lengthAdjust="spacingAndGlyphs">136.030</text>
<text transform="translate(1623.5 196) scale(1 1.1)" font-size="9" fill="#000" stroke="#000" stroke-width="0.1" textLength="32.5" lengthAdjust="spacingAndGlyphs">135.690</text>
<text transform="translate(1623.5 229) scale(1 1.1)" font-size="9" fill="#000" stroke="#000" stroke-width="0.1" textLength="32.5" lengthAdjust="spacingAndGlyphs">135.350</text>
<text transform="translate(1623.5 262) scale(1 1.1)" font-size="9" fill="#000" stroke="#000" stroke-width="0.1" textLength="32.5" lengthAdjust="spacingAndGlyphs">135.010</text>
<text transform="translate(1623.5 295) scale(1 1.1)" font-size="9" fill="#000" stroke="#000" stroke-width="0.1" textLength="32.5" lengthAdjust="spacingAndGlyphs">134.670</text>
<text transform="translate(1623.5 328) scale(1 1.1)" font-size="9" fill="#000" stroke="#000" stroke-width="0.1" textLength="32.5" lengthAdjust="spacingAndGlyphs">134.330</text>
<text transform="translate(1623.5 361) scale(1 1.1)" font-size="9" fill="#000" stroke="#000" stroke-width="0.1" textLength="32.5" lengthAdjust="spacingAndGlyphs">133.990</text>
<text transform="translate(1623.5 394) scale(1 1.1)" font-size="9" fill="#000" stroke="#000" stroke-width="0.1" textLength="32.5" lengthAdjust="spacingAndGlyphs">133.650</text>
<text transform="translate(1623.5 427) scale(1 1.1)" font-size="9" fill="#000" stroke="#000" stroke-width="0.1" textLength="32.5" lengthAdjust="spacingAndGlyphs">133.310</text>
<text transform="translate(1623.5 460) scale(1 1.1)" font-size="9" fill="#000" stroke="#000" stroke-width="0.1" textLength="32.5" lengthAdjust="spacingAndGlyphs">132.970</text>
<text transform="translate(1623.5 493) scale(1 1.1)" font-size="9" fill="#000" stroke="#000" stroke-width="0.1" textLength="32.5" lengthAdjust="spacingAndGlyphs">132.630</text>
<text transform="translate(1623.5 526) scale(1 1.1)" font-size="9" fill="#000" stroke="#000" stroke-width="0.1" textLength="32.5" lengthAdjust="spacingAndGlyphs">132.290</text>
<text transform="translate(1623.5 559) scale(1 1.1)" font-size="9" fill="#000" stroke="#000" stroke-width="0.1" textLength="32.5" lengthAdjust="spacingAndGlyphs">131.950</text>
<text transform="translate(1623.5 592) scale(1 1.1)" font-size="9" fill="#000" stroke="#000" stroke-width="0.1" textLength="32.5" lengthAdjust="spacingAndGlyphs">131.610</text>
<text transform="translate(1623.5 625) scale(1 1.1)" font-size="9" fill="#000" stroke="#000" stroke-width="0.1" textLength="32.5" lengthAdjust="spacingAndGlyphs">131.270</text>
<g shape-rendering="crispEdges">
<rect x="1619" y="30" width="41" height="11" fill="#dc143c"/>
</g>
<text transform="translate(1623.5 39) scale(1 1.1)" font-size="9" fill="#fff" stroke="#fff" stroke-width="0.1" textLength="32.5" lengthAdjust="spacingAndGlyphs">137.298</text>
<g shape-rendering="crispEdges">
<rect x="1619" y="60" width="41" height="11" fill="#ff0000"/>
</g>
<text transform="translate(1623.5 69) scale(1 1.1)" font-size="9" fill="#fff" stroke="#fff" stroke-width="0.1" textLength="32.5" lengthAdjust="spacingAndGlyphs">136.997</text>
<g shape-rendering="crispEdges">
<rect x="1619" y="89" width="41" height="11" fill="#000000"/>
</g>
<text transform="translate(1623.5 98) scale(1 1.1)" font-size="9" fill="#fff" stroke="#fff" stroke-width="0.1" textLength="32.5" lengthAdjust="spacingAndGlyphs">136.701</text>
<g shape-rendering="crispEdges">
<rect x="1619" y="108" width="41" height="11" fill="#ffa500"/>
</g>
<text transform="translate(1623.5 117) scale(1 1.1)" font-size="9" fill="#fff" stroke="#fff" stroke-width="0.1" textLength="32.5" lengthAdjust="spacingAndGlyphs">136.494</text>
<g shape-rendering="crispEdges">
<rect x="1619" y="143" width="41" height="11" fill="#0000ff"/>
</g>
<text transform="translate(1623.5 152) scale(1 1.1)" font-size="9" fill="#fff" stroke="#fff" stroke-width="0.1" textLength="32.5" lengthAdjust="spacingAndGlyphs">136.133</text>
<g shape-rendering="crispEdges">
<rect x="1619" y="175" width="41" height="11" fill="#0000ff"/>
</g>
<text transform="translate(1623.5 184) scale(1 1.1)" font-size="9" fill="#fff" stroke="#fff" stroke-width="0.1" textLength="32.5" lengthAdjust="spacingAndGlyphs">135.804</text>
<g clip-path="url(#cmacd)" shape-rendering="crispEdges">
<rect x="4" y="704" width="3" height="21" fill="#00ff00"/>
<rect x="20" y="698" width="3" height="27" fill="#00ff00"/>
<rect x="36" y="687" width="3" height="38" fill="#00ff00"/>
<rect x="52" y="678" width="3" height="47" fill="#00ff00"/>
<rect x="68" y="675" width="3" height="50" fill="#00ff00"/>
<rect x="84" y="674" width="3" height="51" fill="#00ff00"/>
<rect x="100" y="678" width="3" height="47" fill="#00ff00"/>
<rect x="116" y="681" width="3" height="44" fill="#00ff00"/>
<rect x="132" y="682" width="3" height="43" fill="#00ff00"/>
<rect x="148" y="676" width="3" height="49" fill="#00ff00"/>
<rect x="164" y="671" width="3" height="54" fill="#00ff00"/>
<rect x="180" y="667" width="3" height="58" fill="#00ff00"/>
<rect x="196" y="665" width="3" height="60" fill="#00ff00"/>
<rect x="212" y="660" width="3" height="65" fill="#00ff00"/>
<rect x="228" y="656" width="3" height="69" fill="#00ff00"/>
<rect x="244" y="645" width="3" height="80" fill="#00ff00"/>
<rect x="260" y="638" width="3" height="87" fill="#00ff00"/>
<rect x="276" y="636" width="3" height="89" fill="#00ff00"/>
<rect x="292" y="638" width="3" height="87" fill="#00ff00"/>
<rect x="308" y="640" width="3" height="85" fill="#00ff00"/>
<rect x="324" y="642" width="3" height="83" fill="#00ff00"/>
<rect x="340" y="640" width="3" height="85" fill="#00ff00"/>
<rect x="356" y="644" width="3" height="81" fill="#00ff00"/>
<rect x="372" y="645" width="3" height="80" fill="#00ff00"/>
<rect x="388" y="641" width="3" height="84" fill="#00ff00"/>
<rect x="404" y="636" width="3" height="89" fill="#00ff00"/>
<rect x="420" y="631" width="3" height="94" fill="#00ff00"/>
<rect x="436" y="636" width="3" height="89" fill="#00ff00"/>
<rect x="452" y="643" width="3" height="82" fill="#00ff00"/>
<rect x="468" y="648" width="3" height="77" fill="#00ff00"/>
<rect x="484" y="653" width="3" height="72" fill="#00ff00"/>
<rect x="500" y="660" width="3" height="65" fill="#00ff00"/>
<rect x="516" y="667" width="3" height="58" fill="#00ff00"/>
<rect x="532" y="673" width="3" height="52" fill="#00ff00"/>
<rect x="548" y="676" width="3" height="49" fill="#00ff00"/>
<rect x="564" y="677" width="3" height="48" fill="#00ff00"/>
<rect x="580" y="678" width="3" height="47" fill="#00ff00"/>
<rect x="596" y="678" width="3" height="47" fill="#00ff00"/>
<rect x="612" y="677" width="3" height="48" fill="#00ff00"/>
<rect x="628" y="676" width="3" height="49" fill="#00ff00"/>
<rect x="644" y="674" width="3" height="51" fill="#00ff00"/>
<rect x="660" y="672" width="3" height="53" fill="#00ff00"/>
<rect x="676" y="672" width="3" height="53" fill="#00ff00"/>
<rect x="692" y="676" width="3" height="49" fill="#00ff00"/>
<rect x="708" y="677" width="3" height="48" fill="#00ff00"/>
<rect x="724" y="681" width="3" height="44" fill="#00ff00"/>
<rect x="740" y="681" width="3" height="44" fill="#00ff00"/>
<rect x="756" y="682" width="3" height="43" fill="#00ff00"/>
<rect x="772" y="684" width="3" height="41" fill="#00ff00"/>
<rect x="788" y="686" width="3" height="39" fill="#00ff00"/>
<rect x="804" y="687" width="3" height="38" fill="#00ff00"/>
<rect x="820" y="689" width="3" height="36" fill="#00ff00"/>
<rect x="836" y="693" width="3" height="32" fill="#00ff00"/>
<rect x="852" y="697" width="3" height="28" fill="#00ff00"/>
<rect x="868" y="700" width="3" height="25" fill="#00ff00"/>
<rect x="884" y="701" width="3" height="24" fill="#00ff00"/>
<rect x="900" y="695" width="3" height="30" fill="#00ff00"/>
<rect x="916" y="681" width="3" height="44" fill="#00ff00"/>
<rect x="932" y="669" width="3" height="56" fill="#00ff00"/>
<rect x="948" y="661" width="3" height="64" fill="#00ff00"/>
<rect x="964" y="656" width="3" height="69" fill="#00ff00"/>
<rect x="980" y="655" width="3" height="70" fill="#00ff00"/>
<rect x="996" y="654" width="3" height="71" fill="#00ff00"/>
<rect x="1012" y="657" width="3" height="68" fill="#00ff00"/>
<rect x="1028" y="657" width="3" height="68" fill="#00ff00"/>
<rect x="1044" y="657" width="3" height="68" fill="#00ff00"/>
<rect x="1060" y="658" width="3" height="67" fill="#00ff00"/>
<rect x="1076" y="656" width="3" height="69" fill="#00ff00"/>
<rect x="1092" y="654" width="3" height="71" fill="#00ff00"/>
<rect x="1108" y="659" width="3" height="66" fill="#00ff00"/>
<rect x="1124" y="665" width="3" height="60" fill="#00ff00"/>
<rect x="1140" y="668" width="3" height="57" fill="#00ff00"/>
<rect x="1156" y="671" width="3" height="54" fill="#00ff00"/>
<rect x="1172" y="678" width="3" height="47" fill="#00ff00"/>
<rect x="1188" y="691" width="3" height="34" fill="#00ff00"/>
<rect x="1204" y="693" width="3" height="32" fill="#00ff00"/>
<rect x="1220" y="694" width="3" height="31" fill="#00ff00"/>
<rect x="1236" y="696" width="3" height="29" fill="#00ff00"/>
<rect x="1252" y="695" width="3" height="30" fill="#00ff00"/>
<rect x="1268" y="690" width="3" height="35" fill="#00ff00"/>
<rect x="1284" y="689" width="3" height="36" fill="#00ff00"/>
<rect x="1300" y="687" width="3" height="38" fill="#00ff00"/>
<rect x="1316" y="685" width="3" height="40" fill="#00ff00"/>
<rect x="1332" y="685" width="3" height="40" fill="#00ff00"/>
<polyline points="5,710.0 21,709.7 37,707.2 53,704.3 69,700.0 85,695.0 101,691.4 117,687.5 133,684.1 149,681.3 165,678.4 181,676.2 197,674.0 213,673.0 229,671.2 245,667.6 261,662.5 277,657.2 293,653.4 309,649.3 325,646.0 341,643.8 357,641.9 373,641.3 389,640.2 405,639.7 421,639.7 437,639.7 453,640.6 469,641.6 485,642.3 501,644.0 517,646.2 533,649.5 549,653.9 565,658.6 581,664.0 597,668.3 613,671.5 629,674.5 645,675.5 661,675.8 677,675.8 693,675.5 709,674.8 725,676.0 741,676.2 757,677.7 773,678.4 789,678.8 805,681.3 821,682.3 837,685.6 853,687.7 869,689.9 885,691.8 901,692.8 917,692.0 933,690.6 949,687.3 965,684.4 981,679.4 997,675.5 1013,670.5 1029,665.4 1045,661.5 1061,658.2 1077,657.5 1093,656.0 1109,656.3 1125,658.5 1141,660.0 1157,661.5 1173,663.2 1189,667.6 1205,671.2 1221,675.5 1237,678.8 1253,683.4 1269,686.6 1285,688.5 1301,690.3 1317,690.6 1333,690.6" fill="none" stroke="#ff0000" stroke-width="2"/>
</g>
<text transform="translate(9.5 639) scale(1 1.1)" font-size="9" fill="#000" stroke="#000" stroke-width="0.1" textLength="127" lengthAdjust="spacingAndGlyphs">MACD(12,26,9) 0.2918 0.2547</text>
<text transform="translate(1621 637) scale(1 1.1)" font-size="9" fill="#000" stroke="#000" stroke-width="0.1" textLength="28" lengthAdjust="spacingAndGlyphs">0.7116</text>
<text transform="translate(1620.5 723) scale(1 1.1)" font-size="9" fill="#000" stroke="#000" stroke-width="0.1">0</text>
<g clip-path="url(#crsi)" shape-rendering="crispEdges">
<path d="M6 747.5 H1617" stroke="#000" stroke-width="1" stroke-dasharray="3 3"/>
<path d="M6 773.5 H1617" stroke="#000" stroke-width="1" stroke-dasharray="3 3"/>
<path d="M6 803.5 H1617" stroke="#000" stroke-width="1" stroke-dasharray="3 3"/>
<polyline points="5,765.1 21,764.7 37,760.3 53,759.7 69,763.3 85,765.3 101,768.9 117,768.7 133,767.7 149,761.1 165,760.7 181,759.7 197,759.7 213,757.4 229,756.8 245,751.8 261,753.4 277,757.8 293,760.1 309,759.7 325,758.7 341,756.7 357,761.7 373,760.6 389,755.2 405,754.5 421,753.8 437,763.6 453,765.7 469,764.9 485,766.8 501,768.6 517,768.9 533,768.2 549,766.2 565,765.7 581,764.6 597,762.9 613,761.7 629,760.3 645,757.4 661,757.0 677,758.8 693,762.9 709,763.2 725,766.8 741,761.7 757,762.0 773,765.7 789,764.6 805,763.9 821,764.6 837,769.6 853,769.8 869,768.2 885,766.8 901,757.4 917,748.7 933,748.7 949,749.5 965,749.5 981,754.8 997,754.8 1013,759.5 1029,757.1 1045,756.7 1061,757.7 1077,752.8 1093,752.8 1109,765.7 1125,766.8 1141,764.2 1157,763.9 1173,771.8 1189,779.0 1205,768.9 1221,768.6 1237,768.6 1253,766.8 1269,762.9 1285,764.3 1301,764.6 1317,763.9 1333,763.9" fill="none" stroke="#1e90ff" stroke-width="2"/>
</g>
<g shape-rendering="crispEdges">
<rect x="1618" y="747" width="2" height="1" fill="#000"/>
<rect x="1618" y="773" width="2" height="1" fill="#000"/>
<rect x="1618" y="803" width="2" height="1" fill="#000"/>
<rect x="1618" y="628" width="1" height="1" fill="#000"/>
<rect x="1618" y="725" width="1" height="1" fill="#000"/>
<rect x="1618" y="730" width="1" height="1" fill="#000"/>
</g>
<text transform="translate(9.5 741) scale(1 1.1)" font-size="9" fill="#000" stroke="#000" stroke-width="0.1" textLength="67" lengthAdjust="spacingAndGlyphs">RSI(14) 60.2453</text>
<text transform="translate(1621 739) scale(1 1.1)" font-size="9" fill="#000" stroke="#000" stroke-width="0.1" textLength="15" lengthAdjust="spacingAndGlyphs">100</text>
<text transform="translate(1619.5 751) scale(1 1.1)" font-size="9" fill="#000" stroke="#000" stroke-width="0.1" textLength="10.5" lengthAdjust="spacingAndGlyphs">80</text>
<text transform="translate(1619.5 777) scale(1 1.1)" font-size="9" fill="#000" stroke="#000" stroke-width="0.1" textLength="10.5" lengthAdjust="spacingAndGlyphs">50</text>
<text transform="translate(1620 807) scale(1 1.1)" font-size="9" fill="#000" stroke="#000" stroke-width="0.1" textLength="10.5" lengthAdjust="spacingAndGlyphs">15</text>
<text transform="translate(1620.5 814) scale(1 1.1)" font-size="9" fill="#000" stroke="#000" stroke-width="0.1">0</text>
<g shape-rendering="crispEdges">
<rect x="5" y="818" width="1" height="3" fill="#000"/>
<rect x="69" y="818" width="1" height="3" fill="#000"/>
<rect x="133" y="818" width="1" height="3" fill="#000"/>
<rect x="197" y="818" width="1" height="3" fill="#000"/>
<rect x="261" y="818" width="1" height="3" fill="#000"/>
<rect x="325" y="818" width="1" height="3" fill="#000"/>
<rect x="389" y="818" width="1" height="3" fill="#000"/>
<rect x="453" y="818" width="1" height="3" fill="#000"/>
<rect x="517" y="818" width="1" height="3" fill="#000"/>
<rect x="581" y="818" width="1" height="3" fill="#000"/>
<rect x="645" y="818" width="1" height="3" fill="#000"/>
<rect x="709" y="818" width="1" height="3" fill="#000"/>
<rect x="773" y="818" width="1" height="3" fill="#000"/>
<rect x="837" y="818" width="1" height="3" fill="#000"/>
<rect x="901" y="818" width="1" height="3" fill="#000"/>
<rect x="965" y="818" width="1" height="3" fill="#000"/>
<rect x="1029" y="818" width="1" height="3" fill="#000"/>
<rect x="1093" y="818" width="1" height="3" fill="#000"/>
<rect x="1157" y="818" width="1" height="3" fill="#000"/>
<rect x="1221" y="818" width="1" height="3" fill="#000"/>
<rect x="1285" y="818" width="1" height="3" fill="#000"/>
</g>
<text transform="translate(4.5 830) scale(1 1.1)" font-size="9.3" fill="#000" stroke="#000" stroke-width="0.1">13 Feb 2023</text>
<text transform="translate(68.5 830) scale(1 1.1)" font-size="9.3" fill="#000" stroke="#000" stroke-width="0.1">13 Feb 16:00</text>
<text transform="translate(132.5 830) scale(1 1.1)" font-size="9.3" fill="#000" stroke="#000" stroke-width="0.1">14 Feb 08:00</text>
<text transform="translate(196.5 830) scale(1 1.1)" font-size="9.3" fill="#000" stroke="#000" stroke-width="0.1">15 Feb 00:00</text>
<text transform="translate(260.5 830) scale(1 1.1)" font-size="9.3" fill="#000" stroke="#000" stroke-width="0.1">15 Feb 16:00</text>
<text transform="translate(324.5 830) scale(1 1.1)" font-size="9.3" fill="#000" stroke="#000" stroke-width="0.1">16 Feb 08:00</text>
<text transform="translate(388.5 830) scale(1 1.1)" font-size="9.3" fill="#000" stroke="#000" stroke-width="0.1">17 Feb 00:00</text>
<text transform="translate(452.5 830) scale(1 1.1)" font-size="9.3" fill="#000" stroke="#000" stroke-width="0.1">17 Feb 16:00</text>
<text transform="translate(516.5 830) scale(1 1.1)" font-size="9.3" fill="#000" stroke="#000" stroke-width="0.1">20 Feb 08:00</text>
<text transform="translate(580.5 830) scale(1 1.1)" font-size="9.3" fill="#000" stroke="#000" stroke-width="0.1">21 Feb 00:00</text>
<text transform="translate(644.5 830) scale(1 1.1)" font-size="9.3" fill="#000" stroke="#000" stroke-width="0.1">21 Feb 16:00</text>
<text transform="translate(708.5 830) scale(1 1.1)" font-size="9.3" fill="#000" stroke="#000" stroke-width="0.1">22 Feb 08:00</text>
<text transform="translate(772.5 830) scale(1 1.1)" font-size="9.3" fill="#000" stroke="#000" stroke-width="0.1">23 Feb 00:00</text>
<text transform="translate(836.5 830) scale(1 1.1)" font-size="9.3" fill="#000" stroke="#000" stroke-width="0.1">23 Feb 16:00</text>
<text transform="translate(900.5 830) scale(1 1.1)" font-size="9.3" fill="#000" stroke="#000" stroke-width="0.1">24 Feb 08:00</text>
<text transform="translate(964.5 830) scale(1 1.1)" font-size="9.3" fill="#000" stroke="#000" stroke-width="0.1">27 Feb 00:00</text>
<text transform="translate(1028.5 830) scale(1 1.1)" font-size="9.3" fill="#000" stroke="#000" stroke-width="0.1">27 Feb 16:00</text>
<text transform="translate(1092.5 830) scale(1 1.1)" font-size="9.3" fill="#000" stroke="#000" stroke-width="0.1">28 Feb 08:00</text>
<text transform="translate(1156.5 830) scale(1 1.1)" font-size="9.3" fill="#000" stroke="#000" stroke-width="0.1">1 Mar 00:00</text>
<text transform="translate(1220.5 830) scale(1 1.1)" font-size="9.3" fill="#000" stroke="#000" stroke-width="0.1">1 Mar 16:00</text>
<text transform="translate(1284.5 830) scale(1 1.1)" font-size="9.3" fill="#000" stroke="#000" stroke-width="0.1">2 Mar 08:00</text>
</svg></body></html>
